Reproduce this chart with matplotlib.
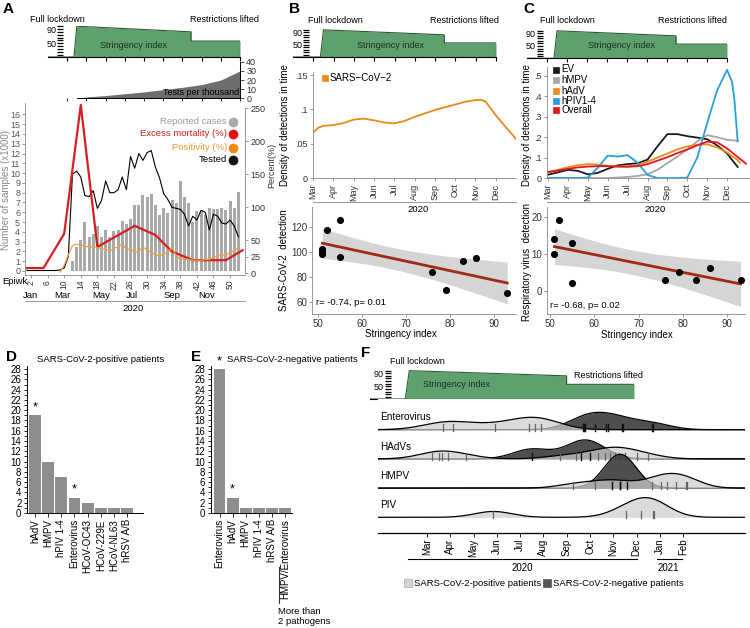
import numpy as np
import matplotlib
matplotlib.use("Agg")
import matplotlib.pyplot as plt
from matplotlib.lines import Line2D

plt.rcParams['font.family'] = ['Liberation Sans', 'DejaVu Sans']
plt.rcParams['font.size'] = 6.5
plt.rcParams['axes.linewidth'] = 0.7
for a in ('xtick', 'ytick'):
    plt.rcParams[a + '.major.size'] = 2.5
    plt.rcParams[a + '.major.width'] = 0.6
    plt.rcParams[a + '.major.pad'] = 1.5
    plt.rcParams[a + '.labelsize'] = 6.5

# ---------------- data ----------------
# stringency index, x in months of 2020 (2 = Feb, 12 = Dec)
stringency_month = [2, 3.35, 3.5, 9.45, 9.45, 12]
stringency_value = [11, 11, 98, 82, 56, 56]

tests_month = [3.5, 4, 5, 6, 7, 8, 9, 10, 11, 12]
tests_per_thousand = [0.3, 1.5, 3, 5, 7, 9.5, 12, 15, 20, 30]

cases_weeks = list(range(12, 53))
reported_cases = [1.0, 2.4, 3.2, 5.0, 3.5, 3.8, 4.6, 3.5, 4.2, 3.5, 4.1, 4.2, 5.1, 4.8,
                  5.3, 6.7, 6.7, 7.8, 7.6, 7.9, 6.7, 5.7, 6.4, 5.9, 7.3, 6.9, 9.2, 7.6,
                  6.9, 5.0, 6.1, 6.2, 5.7, 6.4, 6.3, 6.3, 6.4, 6.2, 7.1, 6.4, 8.1]
tested_weeks = list(range(1, 53))
tested = [0.05, 0.05, 0.05, 0.05, 0.05, 0.05, 0.05, 0.05, 0.1, 0.3, 1.5, 9.9, 10.2,
          9.6, 7.7, 7.6, 8.2, 6.4, 7.2, 9.2, 8.0, 8.0, 8.3, 9.6, 8.3, 11.7, 10.5, 12.0,
          11.3, 12.1, 12.3, 10.6, 9.5, 7.9, 7.3, 6.5, 6.4, 6.3, 5.8, 4.6, 5.6, 5.2, 6.2,
          6.0, 4.2, 5.8, 5.6, 4.9, 4.8, 5.2, 4.6, 3.5]
excess_weeks = [1, 5, 10, 14, 18, 27, 32, 36, 41, 49, 53]
excess_mortality = [8, 8, 60, 255, 40, 72, 58, 33, 20, 20, 35]
positivity_weeks = list(range(9, 53))
positivity = [2, 12, 28, 42, 44, 43, 41, 40, 40, 39, 37, 36, 34, 38, 40, 45, 36, 37, 32,
              34, 40, 35, 32, 28, 26, 30, 31, 40, 26, 22, 22, 21, 20, 20, 20, 21, 21, 25,
              26, 28, 28, 31, 35, 38]

month_names = ['Mar', 'Apr', 'May', 'Jun', 'Jul', 'Aug', 'Sep', 'Oct', 'Nov', 'Dec']

sars_month = [3, 3.25, 3.5, 4, 4.5, 5, 5.5, 6, 6.5, 7, 7.5, 8, 8.5, 9, 9.5, 10, 10.5,
              11, 11.25, 11.5, 12, 12.5, 13]
sars_density = [0.066, 0.073, 0.076, 0.077, 0.080, 0.085, 0.0865, 0.084, 0.081, 0.0795,
                0.083, 0.089, 0.094, 0.099, 0.103, 0.107, 0.111, 0.1135, 0.114, 0.1115,
                0.0915, 0.074, 0.057]

c_month = [3, 3.5, 4, 4.5, 5, 5.5, 6, 6.5, 7, 7.5, 8, 8.5, 9, 9.5, 10, 10.5, 11, 11.5, 12]
ev_density = [0.016, 0.028, 0.040, 0.035, 0.018, 0.025, 0.045, 0.062, 0.068, 0.072, 0.09,
              0.155, 0.215, 0.215, 0.205, 0.198, 0.19, 0.16, 0.12]
hmpv_density = [0.0, 0.0, 0.0, 0.0, 0.0, 0.0, 0.0, 0.002, 0.005, 0.01, 0.018, 0.04, 0.073,
                0.105, 0.14, 0.18, 0.21, 0.2, 0.187]
hadv_density = [0.025, 0.04, 0.053, 0.063, 0.068, 0.066, 0.06, 0.057, 0.057, 0.065, 0.08,
                0.10, 0.12, 0.14, 0.155, 0.163, 0.165, 0.15, 0.125]
hpiv_density = [0.0, 0.0, 0.0, 0.0, 0.002, 0.05, 0.11, 0.105, 0.112, 0.075, 0.015, 0.0,
                0.0, 0.0, 0.002, 0.1, 0.27, 0.43, 0.53]
overall_density = [0.03, 0.037, 0.045, 0.052, 0.056, 0.058, 0.058, 0.056, 0.055, 0.058,
                   0.068, 0.085, 0.102, 0.122, 0.14, 0.16, 0.178, 0.175, 0.145]
ev_tail_month, ev_tail = [12.53], [0.054]
hmpv_tail_month, hmpv_tail = [12.53], [0.183]
hadv_tail_month, hadv_tail = [12.5, 12.65], [0.09, 0.075]
hpiv_tail_month, hpiv_tail = [12.25, 12.37, 12.53], [0.47, 0.38, 0.18]
overall_tail_month, overall_tail = [12.5, 12.95], [0.105, 0.07]

stringency_idx_b = [51, 51, 51, 52, 55, 55, 76, 79, 83, 86, 93]
sars_detection = [102, 100, 98, 117, 125, 96, 84, 70, 93, 95, 67]
stringency_idx_c = [51, 51, 52, 55, 55, 76, 79, 83, 86, 93]
resp_detection = [14, 10, 19, 13, 2, 3, 5, 3, 6, 3]

pos_names = ['hAdV', 'HMPV', 'hPIV 1-4', 'Enterovirus', 'HCoV-OC43', 'HCoV-229E',
             'HCoV-NL63', 'hRSV A/B']
pos_counts = [19, 10, 7, 3, 2, 1, 1, 1]
neg_names = ['Enterovirus', 'hAdV', 'HMPV', 'hPIV 1-4', 'hRSV A/B', 'HMPV/Enterovirus']
neg_counts = [28, 3, 1, 1, 1, 1]

# detection dates for panel F (months, 13 = Jan 2021)
entero_pos = [3.7, 4.1, 5.9, 7.4, 7.65, 7.9]
entero_neg = [9.7, 9.75, 9.8, 10.2, 10.7, 10.75, 11.35, 11.4, 12.65, 12.7]
hadv_pos = [3.2, 3.5, 3.63, 3.9, 4.66, 8.7, 9.4, 10.35, 10.66, 10.85, 11.06, 11.23, 11.5,
            12.0, 12.47]
hadv_neg = [7.5, 9.6, 10.0]
hmpv_pos = [9.25, 10.2, 10.96, 11.3, 12.67, 13.03, 13.3, 13.7, 14.1, 14.15]
hmpv_neg = [10.96, 11.3, 11.3, 11.6]
piv_pos = [5.85, 11.55, 12.2, 12.7, 12.75]
piv_neg = []
f_rows = ['Enterovirus', 'HAdVs', 'HMPV', 'PIV']
f_month_labels = month_names + ['Jan', 'Feb']

# ---------------- helpers ----------------
W, H = 750, 628
fig = plt.figure(figsize=(7.5, 6.28), dpi=100)
GREEN, DKGREEN = '#5fa06f', '#2c5a35'
GRAYSP = '#888888'


def px_axes(l, t, r, b):
    return fig.add_axes([l / W, 1 - b / H, (r - l) / W, (b - t) / H])


def ftext(x, y, s, **kw):
    kw.setdefault('va', 'center')
    fig.text(x / W, 1 - y / H, s, **kw)


def fline(x0, y0, x1, y1, color='black', lw=0.7):
    fig.add_artist(Line2D([x0 / W, x1 / W], [1 - y0 / H, 1 - y1 / H],
                          transform=fig.transFigure, color=color, lw=lw))


def fmark(x, y, marker, size, color, ec=None):
    fig.add_artist(Line2D([x / W], [1 - y / H], marker=marker, ms=size, color=color,
                          mec=ec or color, mew=0.5, ls='none', transform=fig.transFigure))


def stringency_inset(l, t, r, b, text_xy):
    ax = px_axes(l, t, r, b)
    ax.fill_between(stringency_month, 11, stringency_value, color=GREEN, lw=0)
    ax.plot(stringency_month, stringency_value, color=DKGREEN, lw=0.8)
    ax.plot([12, 12], [11, stringency_value[-1]], color=DKGREEN, lw=0.8)
    ax.set_xlim(2, 12)
    ax.set_ylim(11, 100)
    ax.spines[['top', 'right', 'left']].set_visible(False)
    ax.spines['left'].set_position(('data', 2.8))
    ax.spines['bottom'].set_linewidth(0.8)
    ax.set_xticks(range(3, 13))
    ax.tick_params(axis='x', labelbottom=False, length=3, width=0.8)
    yt = list(range(18, 99, 8))
    ax.set_yticks(yt)
    ax.set_yticklabels([str(v) if v in (50, 90) else '' for v in yt])
    ax.tick_params(axis='y', length=4, width=0.9, pad=1)
    ax.text(text_xy[0], text_xy[1], 'Stringency index', ha='center', va='center',
            color='#1c3320')
    return ax


def style_gray(ax):
    for s in ax.spines.values():
        s.set_color(GRAYSP)
        s.set_linewidth(0.6)
    ax.tick_params(color=GRAYSP, labelcolor='#333333')


# ---------------- panel A ----------------
ftext(3, 9, 'A', fontsize=11, fontweight='bold', ha='left')
stringency_inset(48, 25.5, 240, 57, (6.43, 43))
ftext(30, 20, 'Full lockdown', ha='left')
ftext(259, 20, 'Restrictions lifted', ha='right')

axT = px_axes(48, 61.7, 240, 98.3)
axT.fill_between(tests_month, 0, tests_per_thousand, color='#6e6e6e', lw=0)
axT.set_xlim(2, 12)
axT.set_ylim(0, 40)
axT.spines[['top', 'left']].set_visible(False)
axT.spines['bottom'].set_bounds(3.5, 12)
axT.set_xticks(range(3, 13))
axT.tick_params(axis='x', labelbottom=False, length=2.5)
axT.yaxis.tick_right()
axT.set_yticks([0, 10, 20, 30, 40])
axT.tick_params(axis='y', length=3, colors='#333333')
axT.text(11.95, 1.5, 'Tests per thousand', ha='right', va='bottom', fontsize=6.5)

axA = px_axes(25, 103, 245, 275)
axA.bar(cases_weeks, reported_cases, width=0.72, color='#a9a9a9', lw=0, zorder=1)
axA.plot(tested_weeks, tested, color='black', lw=0.8, zorder=3)
axA.set_xlim(0.55, 53.6)
axA.set_ylim(-0.41, 17.16)
axA.set_yticks(range(0, 17))
axA.set_xticks(range(2, 51, 4))
axA.set_xticklabels([str(w) for w in range(2, 51, 4)], rotation=90)
axA.spines[['top', 'right']].set_visible(False)
style_gray(axA)
axA.tick_params(axis='y', labelcolor='#555555', length=2)
axA.tick_params(axis='x', labelsize=6.2, pad=1)
axAr = axA.twinx()
axAr.plot(excess_weeks, excess_mortality, color='#d42020', lw=1.6)
axAr.plot(positivity_weeks, positivity, color='#eba23a', lw=0.9)
axAr.set_ylim(-2.5, 258)
axAr.set_yticks([0, 25, 50, 100, 150, 200, 250])
axAr.spines[['top', 'left', 'bottom']].set_visible(False)
axAr.spines['right'].set_bounds(0, 250)
style_gray(axAr)
axAr.tick_params(axis='y', length=2.5)

ftext(6, 190, 'Number of samples (x1000)', rotation=90, ha='center', color='#8a8a8a',
      fontsize=7)
ftext(272, 165, 'Percent(%)', rotation=90, ha='center', color='#333333')
ftext(2, 282, 'Epiwk', ha='left', fontsize=6.8)
for name, x in zip(['Jan', 'Mar', 'May', 'Jul', 'Sep', 'Nov'], [31, 62.5, 100.8, 132, 172.5, 206.7]):
    ftext(x, 295, name, ha='center', fontsize=6.8)
fline(25, 300.5, 245, 300.5, color='#999999')
ftext(133, 309, '2020', ha='center', fontsize=6.8)

legA = [('Reported cases', '#9a9a9a', '#a9a9a9', 121.5), ('Excess mortality (%)', '#c8201e', '#e01010', 133.5),
        ('Positivity (%)', '#e29a33', '#ef8a12', 147.5), ('Tested', 'black', '#111111', 160)]
for lab, tc, mc, y in legA:
    ftext(227, y, lab, ha='right', color=tc, fontsize=6.8)
    fmark(233, y, 'o', 6.5, mc)

# ---------------- panel B ----------------
ftext(289, 9, 'B', fontsize=11, fontweight='bold', ha='left')
stringency_inset(293, 29.2, 496, 57, (6.78, 47))
ftext(308, 20.5, 'Full lockdown', ha='left')
ftext(430, 20.5, 'Restrictions lifted', ha='left')

axB = px_axes(313, 72, 516, 178)
axB.plot(sars_month, sars_density, color='#e8891c', lw=1.3)
axB.set_xlim(3, 13.0)
axB.set_ylim(0, 0.1544)
axB.set_yticks([0, 0.05, 0.1, 0.15])
axB.set_yticklabels(['0', '.05', '.1', '.15'])
axB.set_xticks(range(3, 13))
axB.set_xticklabels(month_names, rotation=90)
axB.spines[['top', 'right']].set_visible(False)
style_gray(axB)
ftext(285, 125, 'Density of detections in time', rotation=90, ha='center', fontsize=7)
fmark(324.5, 78, 's', 4.5, '#ee8a1e')
ftext(330, 78, 'SARS\u2212CoV\u22122', ha='left', fontsize=7)
fline(313, 202, 516, 202, color='#999999')
ftext(418, 210, '2020', ha='center', fontsize=6.8)


def scatter_panel(ax, xs, ys, xlim, ylim, yticks, txt, txt_xy):
    xs = np.asarray(xs, float)
    ys = np.asarray(ys, float)
    n = len(xs)
    slope, icpt = np.polyfit(xs, ys, 1)
    xx = np.linspace(xs.min(), xs.max(), 100)
    fit = icpt + slope * xx
    resid = ys - (icpt + slope * xs)
    s = np.sqrt((resid ** 2).sum() / (n - 2))
    tval = 2.262 if n == 11 else 2.306
    se = s * np.sqrt(1 / n + (xx - xs.mean()) ** 2 / ((xs - xs.mean()) ** 2).sum())
    ax.fill_between(xx, fit - tval * se, fit + tval * se, color='#d5d5d5', lw=0)
    ax.plot(xx, fit, color='#a2281a', lw=2)
    ax.scatter(xs, ys, s=26, color='black', zorder=3, lw=0)
    ax.set_xlim(*xlim)
    ax.set_ylim(*ylim)
    ax.set_xticks([50, 60, 70, 80, 90])
    ax.set_yticks(yticks)
    ax.spines[['top', 'right']].set_visible(False)
    style_gray(ax)
    ax.tick_params(labelsize=7)
    ax.tick_params(axis='x', pad=1)
    ax.tick_params(axis='y', pad=1)
    ax.text(txt_xy[0], txt_xy[1], txt, fontsize=6.8, va='center')


axBs = px_axes(312, 207, 516, 314)
scatter_panel(axBs, stringency_idx_b, sars_detection, (48.64, 95), (50.7, 135.6),
              [60, 80, 100, 120], 'r= -0.74, p= 0.01', (49.5, 60))
ftext(401, 334, 'Stringency index', ha='center', fontsize=7)
ftext(284, 260, 'SARS-CoV-2  detection', rotation=90, ha='center', fontsize=7)

# ---------------- panel C ----------------
ftext(523, 9, 'C', fontsize=11, fontweight='bold', ha='left')
stringency_inset(527, 30.2, 727, 58.3, (6.75, 51))
ftext(540, 20.5, 'Full lockdown', ha='left')
ftext(727, 20.5, 'Restrictions lifted', ha='right')

axC = px_axes(547, 66.7, 750, 178)
c_series = [(ev_density, ev_tail_month, ev_tail, '#1a1a1a'),
            (hmpv_density, hmpv_tail_month, hmpv_tail, '#a6a6a6'),
            (hadv_density, hadv_tail_month, hadv_tail, '#ee8a1e'),
            (hpiv_density, hpiv_tail_month, hpiv_tail, '#2b9fd9'),
            (overall_density, overall_tail_month, overall_tail, '#e3161c')]
for dens, tm, tv, col in c_series:
    axC.plot(c_month + tm, dens + tv, color=col, lw=1.3)
axC.set_xlim(2.95, 13.15)
axC.set_ylim(0, 0.5455)
axC.set_yticks([0, 0.1, 0.2, 0.3, 0.4, 0.5])
axC.set_yticklabels(['0', '.1', '.2', '.3', '.4', '.5'])
axC.set_xticks(range(3, 13))
axC.set_xticklabels(month_names, rotation=90)
axC.spines[['top', 'right']].set_visible(False)
style_gray(axC)
ftext(527, 125, 'Density of detections in time', rotation=90, ha='center', fontsize=7)
for (lab, col), y in zip([('EV', '#1a1a1a'), ('hMPV', '#a6a6a6'), ('hAdV', '#ee8a1e'),
                          ('hPIV1-4', '#2b9fd9'), ('Overall', '#e3161c')],
                         [69.5, 80, 90.5, 100.5, 110]):
    fmark(555.5, y, 's', 4.5, col)
    ftext(561.5, y, lab, ha='left', fontsize=7)
fline(547, 202, 750, 202, color='#999999')
ftext(655, 210, '2020', ha='center', fontsize=6.8)

axCs = px_axes(547, 207, 745, 314)
scatter_panel(axCs, stringency_idx_c, resp_detection, (49.32, 94.0), (-6.3, 22.6),
              [0, 10, 20], 'r= -0.68, p= 0.02', (50, -3.9))
ftext(637, 335, 'Stringency index', ha='center', fontsize=7)
ftext(527, 262, 'Respiratory virus  detection', rotation=90, ha='center', fontsize=7)

# ---------------- panels D and E ----------------
def count_bars(ax, names, counts, xlim, stars):
    ax.bar(range(len(counts)), counts, width=0.9, color='#8e8e8e', lw=0)
    ax.set_xlim(*xlim)
    ax.set_ylim(0, 28.6)
    ax.set_yticks(range(0, 29, 2))
    ax.set_yticks(range(1, 28, 2), minor=True)
    ax.tick_params(axis='y', which='minor', length=2, width=0.6)
    ax.set_xticks(range(len(counts)))
    ax.set_xticklabels(names, rotation=90)
    ax.tick_params(axis='x', length=3)
    ax.spines[['top', 'right']].set_visible(False)
    ax.tick_params(labelsize=7)
    for i in stars:
        ax.text(i, counts[i] + 0.4, '*', ha='center', va='bottom', fontsize=9,
                clip_on=False)


ftext(6, 357, 'D', fontsize=11, fontweight='bold', ha='left')
ftext(37, 360, 'SARS-CoV-2-positive patients', ha='left', fontsize=6.8)
axD = px_axes(27, 366, 143, 513)
count_bars(axD, pos_names, pos_counts, (-0.6, 8.2), [0, 3])

ftext(191, 357, 'E', fontsize=11, fontweight='bold', ha='left')
ftext(227, 360, 'SARS-CoV-2-negative patients', ha='left', fontsize=6.8)
axE = px_axes(210.5, 366, 291.7, 513)
count_bars(axE, neg_names, neg_counts, (-0.69, 5.51), [0, 1])
fline(278.5, 567, 278.5, 603, color='#333333', lw=0.8)
ftext(278, 612, 'More than', ha='left', fontsize=6.8)
ftext(278, 621, '2 pathogens', ha='left', fontsize=6.8)

# ---------------- panel F ----------------
ftext(361, 353, 'F', fontsize=11, fontweight='bold', ha='left')
stringency_inset(369.6, 370, 634, 399, (5.27, 54))
ftext(390, 362, 'Full lockdown', ha='left')
ftext(574, 376, 'Restrictions lifted', ha='left')

axF = px_axes(378, 399, 745, 532.5)
grid = np.linspace(0.9, 16.65, 700)


def kde(points, bw):
    pts = np.asarray(points, float)[:, None]
    d = np.exp(-0.5 * ((grid[None, :] - pts) / bw) ** 2).sum(0)
    return d / (len(points) * bw * np.sqrt(2 * np.pi))


ridge_scale = 2.0
f_data = [(entero_pos, 1.0, entero_neg, 0.8), (hadv_pos, 0.85, hadv_neg, 0.8),
          (hmpv_pos, 0.75, hmpv_neg, 0.65), (piv_pos, 0.8, piv_neg, 0.8)]
for k, (name, (pos, bwp, neg, bwn)) in enumerate(zip(f_rows, f_data)):
    base = 3 - k
    if neg:
        hn = base + kde(neg, bwn) * ridge_scale
        axF.fill_between(grid, base, hn, color='#3c3c3c', alpha=0.9, lw=0, zorder=2 + k)
        axF.plot(grid, hn, color='black', lw=0.9, zorder=2 + k)
    hp = base + kde(pos, bwp) * ridge_scale
    axF.fill_between(grid, base, hp, color='#cdcdcd', alpha=0.72, lw=0, zorder=2 + k)
    axF.plot(grid, hp, color='black', lw=0.9, zorder=2 + k)
    for x in pos:
        axF.plot([x, x], [base - 0.04, base + 0.2], color='#666666', lw=0.9, zorder=3 + k)
    for x in neg:
        axF.plot([x, x], [base - 0.04, base + 0.2], color='#111111', lw=1.0, zorder=3 + k)
    axF.text(1.0, base + 0.42, name, ha='left', va='center', fontsize=7.2)
axF.set_xlim(0.9, 16.65)
axF.set_ylim(-0.52, 4.05)
axF.set_yticks([])
axF.spines[['top', 'left', 'right']].set_visible(False)
axF.spines['bottom'].set_linewidth(0.9)
axF.set_xticks(range(3, 15))
axF.set_xticklabels(f_month_labels, rotation=90)
axF.tick_params(axis='x', length=3, labelsize=7)
fline(408, 559, 637, 559, color='black', lw=0.8)
fline(657, 559, 682, 559, color='black', lw=0.8)
ftext(522, 568, '2020', ha='center', fontsize=7)
ftext(668, 568, '2021', ha='center', fontsize=7)
fmark(408, 583, 's', 5.5, '#d4d4d4', ec='#aaaaaa')
ftext(414, 583, 'SARS-CoV-2-positive patients', ha='left', fontsize=6.8)
fmark(547, 583, 's', 5.5, '#555555')
ftext(553, 583, 'SARS-CoV-2-negative patients', ha='left', fontsize=6.8)

fig.savefig('out.png', dpi=100)
